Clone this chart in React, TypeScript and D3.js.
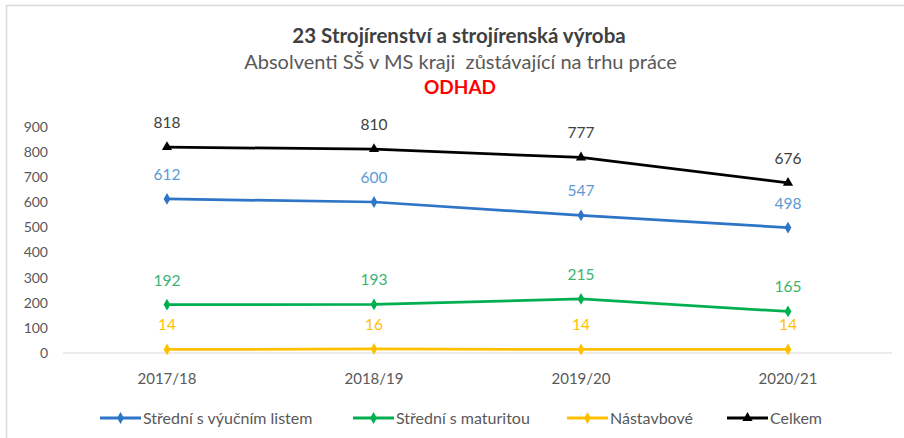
import React, { useRef, useEffect } from 'react';
import * as d3 from 'd3';

const categories = ['2017/18', '2018/19', '2019/20', '2020/21'];
const vyucniList = [612, 600, 547, 498];
const maturita = [192, 193, 215, 165];
const nastavbove = [14, 16, 14, 14];
const celkem = [818, 810, 777, 676];
const yTicks = [0, 100, 200, 300, 400, 500, 600, 700, 800, 900];

const seriesNames = ['Střední s výučním listem', 'Střední s maturitou', 'Nástavbové', 'Celkem'];

const App = () => {
    const svgRef = useRef(null);

    useEffect(() => {
        const svgWidth = 904;
        const svgHeight = 438;
        const font = 'Lato, "Noto Sans", sans-serif';

        const svg = d3.select(svgRef.current)
            .attr('width', svgWidth)
            .attr('height', svgHeight);
        svg.selectAll('*').remove();

        // chart frame
        svg.append('rect')
            .attr('x', 6.5).attr('y', 5.5)
            .attr('width', 1000).attr('height', 1000)
            .attr('fill', '#fff')
            .attr('stroke', '#d9d9d9')
            .attr('stroke-width', 1.5);

        const xScale = d3.scalePoint()
            .domain(categories)
            .range([167, 788]);

        const yScale = d3.scaleLinear()
            .domain([0, 900])
            .range([353, 126.5]);

        // titles
        svg.append('text')
            .attr('x', 459).attr('y', 42.5)
            .attr('text-anchor', 'middle')
            .attr('font-family', font)
            .attr('font-size', 20.5)
            .attr('font-weight', 'bold')
            .attr('fill', '#404040')
            .text('23 Strojírenství a strojírenská výroba');
        svg.append('text')
            .attr('x', 460.5).attr('y', 68.5)
            .attr('text-anchor', 'middle')
            .attr('font-family', font)
            .attr('font-size', 20)
            .attr('fill', '#595959')
            .attr('xml:space', 'preserve')
            .text('Absolventi SŠ v MS kraji  zůstávající na trhu práce');
        svg.append('text')
            .attr('x', 460).attr('y', 94)
            .attr('text-anchor', 'middle')
            .attr('font-family', font)
            .attr('font-size', 19)
            .attr('font-weight', 'bold')
            .attr('fill', '#ff0000')
            .text('ODHAD');

        // y axis labels
        svg.append('g')
            .selectAll('text')
            .data(yTicks)
            .enter()
            .append('text')
            .attr('x', 48)
            .attr('y', (d) => yScale(d) + 5)
            .attr('text-anchor', 'end')
            .attr('font-family', font)
            .attr('font-size', 14)
            .attr('fill', '#595959')
            .text((d) => d);

        // baseline
        svg.append('line')
            .attr('x1', 63).attr('x2', 892)
            .attr('y1', yScale(0)).attr('y2', yScale(0))
            .attr('stroke', '#d9d9d9')
            .attr('stroke-width', 1);

        // x axis labels
        svg.append('g')
            .selectAll('text')
            .data(categories)
            .enter()
            .append('text')
            .attr('x', (d) => xScale(d))
            .attr('y', 384)
            .attr('text-anchor', 'middle')
            .attr('font-family', font)
            .attr('font-size', 15)
            .attr('fill', '#595959')
            .text((d) => d);

        const series = [
            { values: vyucniList, color: '#2e75c8', label: '#5b9bd5', marker: 'diamond' },
            { values: maturita, color: '#00b050', label: '#3cb371', marker: 'diamond' },
            { values: nastavbove, color: '#ffc000', label: '#ffc000', marker: 'diamond' },
            { values: celkem, color: '#000000', label: '#404040', marker: 'triangle' },
        ];

        const line = d3.line()
            .x((d) => xScale(d.cat))
            .y((d) => yScale(d.v));

        const symbolFor = (s) => d3.symbol()
            .type(s.marker === 'triangle' ? d3.symbolTriangle : d3.symbolDiamond)
            .size(s.marker === 'triangle' ? 45 : 40);

        series.forEach((s) => {
            const pts = s.values.map((v, i) => ({ cat: categories[i], v }));

            svg.append('path')
                .datum(pts)
                .attr('fill', 'none')
                .attr('stroke', s.color)
                .attr('stroke-width', 2.75)
                .attr('stroke-linejoin', 'round')
                .attr('d', line);

            svg.append('g')
                .selectAll('path')
                .data(pts)
                .enter()
                .append('path')
                .attr('transform', (d) => `translate(${xScale(d.cat)},${yScale(d.v)})`)
                .attr('d', symbolFor(s))
                .attr('fill', s.color);

            svg.append('g')
                .selectAll('text')
                .data(pts)
                .enter()
                .append('text')
                .attr('x', (d) => xScale(d.cat))
                .attr('y', (d) => yScale(d.v) - 19)
                .attr('text-anchor', 'middle')
                .attr('font-family', font)
                .attr('font-size', 15.5)
                .attr('fill', s.label)
                .text((d) => d.v);
        });

        // legend
        const legendX = [100, 353, 567, 727];
        const legend = svg.append('g').attr('transform', 'translate(0,418)');
        series.forEach((s, i) => {
            const g = legend.append('g').attr('transform', `translate(${legendX[i]},0)`);
            g.append('line')
                .attr('x1', 0).attr('x2', 41)
                .attr('y1', 0).attr('y2', 0)
                .attr('stroke', s.color)
                .attr('stroke-width', 3);
            g.append('path')
                .attr('transform', 'translate(20.5,0)')
                .attr('d', symbolFor(s)())
                .attr('fill', s.color);
            g.append('text')
                .attr('x', 43).attr('y', 5.5)
                .attr('font-family', font)
                .attr('font-size', 16)
                .attr('fill', '#595959')
                .text(seriesNames[i]);
        });
    }, []);

    return (
        <div style={{ position: 'absolute', left: 0, top: 0 }}>
            <svg ref={svgRef} />
        </div>
    );
};

export default App;
